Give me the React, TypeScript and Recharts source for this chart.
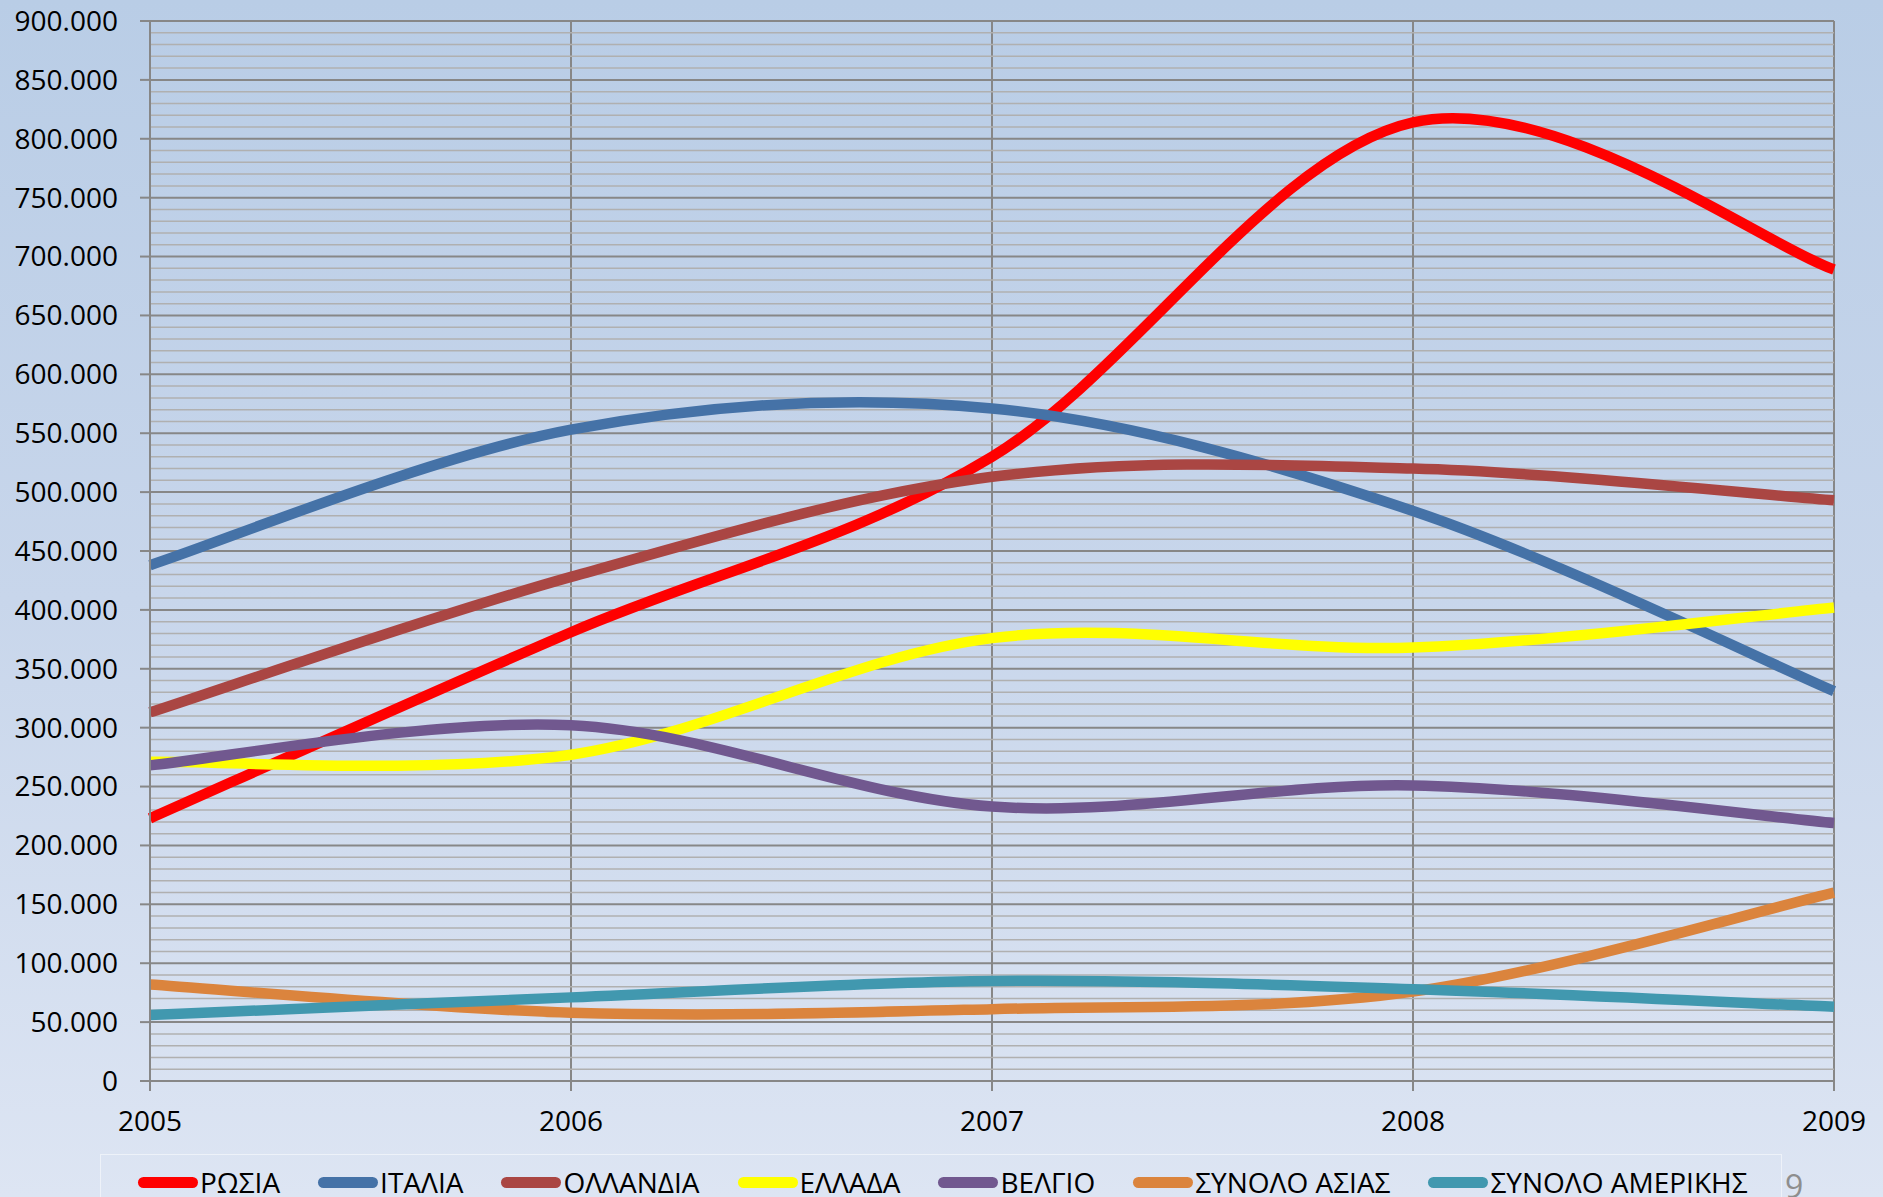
import { LineChart, Line, XAxis, YAxis, CartesianGrid, ReferenceLine } from "recharts";

const years = ["2005", "2006", "2007", "2008", "2009"];

const rosia = [223000, 381000, 530000, 814000, 689000];
const italia = [438000, 553000, 571000, 484000, 331000];
const ollandia = [313000, 428000, 513000, 520000, 493000];
const ellada = [271000, 277000, 376000, 368000, 402000];
const velgio = [268000, 302000, 233000, 251000, 219000];
const asia = [82000, 58000, 61000, 76000, 160000];
const amerikis = [56000, 71000, 85000, 78000, 63000];

const yTicks = [0, 50000, 100000, 150000, 200000, 250000, 300000, 350000, 400000, 450000, 500000, 550000, 600000, 650000, 700000, 750000, 800000, 850000, 900000];
// minor grid every 10.000 (skipping the major lines)
const minorTicks = Array.from({ length: 91 }, (_, i) => i * 10000).filter((v) => v % 50000 !== 0);

const series = [
  { key: "rosia", name: "ΡΩΣΙΑ", color: "#FF0000", values: rosia },
  { key: "italia", name: "ΙΤΑΛΙΑ", color: "#4572A7", values: italia },
  { key: "ollandia", name: "ΟΛΛΑΝΔΙΑ", color: "#AA4643", values: ollandia },
  { key: "ellada", name: "ΕΛΛΑΔΑ", color: "#FFFF00", values: ellada },
  { key: "velgio", name: "ΒΕΛΓΙΟ", color: "#71588F", values: velgio },
  { key: "asia", name: "ΣΥΝΟΛΟ ΑΣΙΑΣ", color: "#DB843D", values: asia },
  { key: "amerikis", name: "ΣΥΝΟΛΟ ΑΜΕΡΙΚΗΣ", color: "#4198AF", values: amerikis },
];

const data = years.map((year, i) => {
  const row: any = { year };
  series.forEach((s) => (row[s.key] = s.values[i]));
  return row;
});

// Excel-like smoothed line (Catmull-Rom through the points)
const excelSmooth: any = (context: any) => {
  let pts: number[][] = [];
  return {
    areaStart() {},
    areaEnd() {},
    lineStart() {
      pts = [];
    },
    point(x: number, y: number) {
      pts.push([+x, +y]);
    },
    lineEnd() {
      if (!pts.length) return;
      context.moveTo(pts[0][0], pts[0][1]);
      for (let i = 0; i < pts.length - 1; i++) {
        const p0 = pts[i - 1] || pts[i];
        const p1 = pts[i];
        const p2 = pts[i + 1];
        const p3 = pts[i + 2] || pts[i + 1];
        context.bezierCurveTo(
          p1[0] + (p2[0] - p0[0]) / 6,
          p1[1] + (p2[1] - p0[1]) / 6,
          p2[0] - (p3[0] - p1[0]) / 6,
          p2[1] - (p3[1] - p1[1]) / 6,
          p2[0],
          p2[1]
        );
      }
    },
  };
};

const fmt = (v: number) => (v === 0 ? "0" : `${Math.round(v / 1000)}.000`);

const font = "'Open Sans', sans-serif";
const tickStyle = { fill: "#000", fontSize: 28, fontFamily: font };

export default function App() {
  return (
    <div
      style={{
        position: "absolute",
        left: 0,
        top: 0,
        width: 1883,
        height: 1197,
        overflow: "hidden",
        background: "linear-gradient(to bottom, #b9cde6 0%, #c8d6eb 50%, #dde5f3 100%)",
        fontFamily: font,
      }}
    >
      <LineChart
        width={1883}
        height={1197}
        data={data}
        margin={{ top: 21, right: 49, left: 0, bottom: 66 }}
      >
        <CartesianGrid stroke="#878787" strokeWidth={2} />
        {minorTicks.map((v) => (
          <ReferenceLine key={v} y={v} stroke="#b0b0b0" strokeWidth={1.5} zIndex={-50} />
        ))}
        <XAxis
          dataKey="year"
          height={50}
          tickSize={10}
          tickMargin={20}
          tick={tickStyle}
          axisLine={{ stroke: "#878787", strokeWidth: 2 }}
          tickLine={{ stroke: "#878787", strokeWidth: 2 }}
          interval={0}
        />
        <YAxis
          width={150}
          domain={[0, 900000]}
          ticks={yTicks}
          tickFormatter={fmt}
          tickSize={10}
          tickMargin={22}
          tick={tickStyle}
          axisLine={{ stroke: "#878787", strokeWidth: 2 }}
          tickLine={{ stroke: "#878787", strokeWidth: 2 }}
          interval={0}
        />
        {series.map((s) => (
          <Line
            key={s.key}
            dataKey={s.key}
            name={s.name}
            type={excelSmooth}
            stroke={s.color}
            strokeWidth={10.5}
            strokeLinejoin="round"
            dot={false}
            activeDot={false}
            isAnimationActive={false}
          />
        ))}
      </LineChart>

      <div
        style={{
          position: "absolute",
          left: 100,
          top: 1154,
          width: 1682,
          height: 80,
          border: "1px solid rgba(255,255,255,0.5)",
          boxSizing: "border-box",
        }}
      />
      <div
        style={{
          position: "absolute",
          left: 138,
          top: 1170,
          display: "flex",
          alignItems: "center",
          gap: 38,
          fontSize: 28,
          lineHeight: "24px",
          color: "#000",
          whiteSpace: "nowrap",
        }}
      >
        {series.map((s) => (
          <div key={s.key} style={{ display: "flex", alignItems: "center" }}>
            <div
              style={{
                width: 60,
                height: 11,
                borderRadius: 6,
                background: s.color,
                marginRight: 2,
              }}
            />
            <span>{s.name}</span>
          </div>
        ))}
      </div>
      <div
        style={{
          position: "absolute",
          left: 1785,
          top: 1170,
          fontSize: 32,
          lineHeight: "32px",
          color: "#8e8e8e",
        }}
      >
        9
      </div>
    </div>
  );
}
